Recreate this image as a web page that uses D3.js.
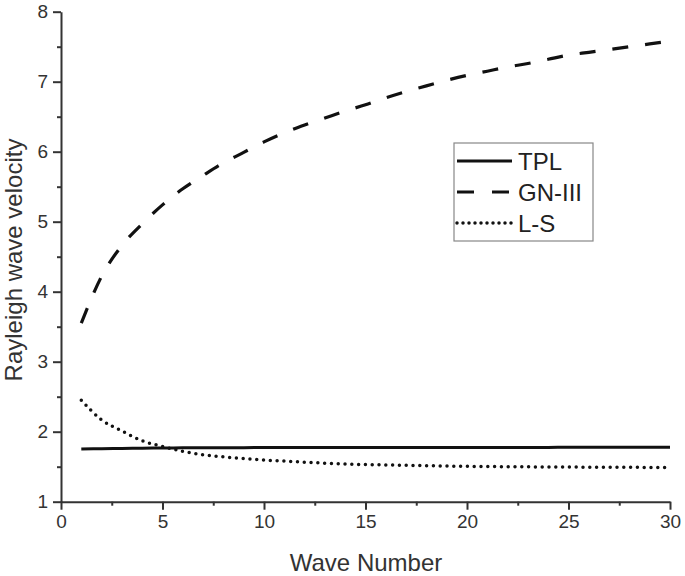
<!DOCTYPE html>
<html>
<head>
<meta charset="utf-8">
<script src="https://cdn.jsdelivr.net/npm/d3@7"></script>
<style>
  html, body { margin: 0; padding: 0; background: #fff; }
  svg { display: block; font-family: "Liberation Sans", Arial, sans-serif; }
</style>
</head>
<body>
<svg id="chart" width="685" height="576"></svg>
<script>
// ---- data ----
const waveNumbers = [1,2,3,4,5,6,7,8,9,10,11,12,13,14,15,16,17,18,19,20,21,22,23,24,25,26,27,28,29,30];
const tplValues   = [1.752,1.757,1.761,1.764,1.767,1.769,1.770,1.771,1.772,1.773,1.773,1.774,1.774,1.774,1.775,1.775,1.775,1.775,1.776,1.776,1.776,1.776,1.776,1.776,1.777,1.777,1.777,1.777,1.777,1.777];
const gnValues    = [3.55,4.22,4.66,4.97,5.24,5.47,5.66,5.84,5.99,6.14,6.27,6.38,6.48,6.58,6.67,6.77,6.86,6.94,7.02,7.09,7.15,7.21,7.26,7.32,7.38,7.42,7.46,7.50,7.54,7.58];
const lsValues    = [2.45,2.17,2.01,1.87,1.79,1.72,1.67,1.64,1.615,1.595,1.58,1.565,1.55,1.54,1.53,1.525,1.52,1.515,1.51,1.505,1.503,1.50,1.498,1.496,1.495,1.493,1.492,1.491,1.49,1.49];
const seriesNames = ["TPL","GN-III","L-S"];
const xTicks = [0,5,10,15,20,25,30];
const xMinorTicks = [2.5,7.5,12.5,17.5,22.5,27.5];
const yTicks = [1,2,3,4,5,6,7,8];
const yMinorTicks = [1.5,2.5,3.5,4.5,5.5,6.5,7.5];
const xTitle = "Wave Number";
const yTitle = "Rayleigh wave velocity";

// ---- layout ----
const svg = d3.select("#chart");
const x = d3.scaleLinear().domain([0,30]).range([61,670]);
const y = d3.scaleLinear().domain([1,8]).range([501.7,11.7]);
const axisColor = "#333";

const styles = {
  "TPL":    {dash: null,     cap: "butt",  width: 3},
  "GN-III": {dash: "16,17",  cap: "butt",  width: 3.2},
  "L-S":    {dash: "0,6.8",  cap: "round", width: 3.5}
};
const seriesData = {
  "TPL": tplValues, "GN-III": gnValues, "L-S": lsValues
};

// ---- axes ----
function styleAxis(g) {
  g.select(".domain").attr("stroke", axisColor).attr("stroke-width", 2);
  g.selectAll(".tick line").attr("stroke", axisColor).attr("stroke-width", 2);
  g.selectAll(".tick text").attr("fill", "#333").attr("font-size", 19)
    .attr("font-family", "'Liberation Sans', Arial, sans-serif");
}
const gx = svg.append("g").attr("transform", `translate(0,${y(1)})`)
  .call(d3.axisBottom(x).tickValues(xTicks).tickSize(8).tickSizeOuter(0).tickPadding(5).tickFormat(d3.format("d")));
styleAxis(gx);
const gxm = svg.append("g").attr("transform", `translate(0,${y(1)})`)
  .call(d3.axisBottom(x).tickValues(xMinorTicks).tickSize(4).tickFormat(""));
gxm.select(".domain").remove();
styleAxis(gxm);

const gy = svg.append("g").attr("transform", `translate(${x(0)},0)`)
  .call(d3.axisLeft(y).tickValues(yTicks).tickSize(8).tickSizeOuter(0).tickPadding(5).tickFormat(d3.format("d")));
styleAxis(gy);
const gym = svg.append("g").attr("transform", `translate(${x(0)},0)`)
  .call(d3.axisLeft(y).tickValues(yMinorTicks).tickSize(4).tickFormat(""));
gym.select(".domain").remove();
styleAxis(gym);

// ---- titles ----
svg.append("text").attr("x", 366).attr("y", 571).attr("text-anchor", "middle")
  .attr("font-size", 24).attr("fill", "#333").text(xTitle);
svg.append("text").attr("transform", `translate(22,260) rotate(-90)`).attr("text-anchor", "middle")
  .attr("font-size", 24).attr("fill", "#333").text(yTitle);

// ---- lines ----
const line = d3.line().x((d,i) => x(waveNumbers[i])).y(d => y(d)).curve(d3.curveMonotoneX);
seriesNames.forEach(name => {
  const s = styles[name];
  svg.append("path").datum(seriesData[name])
    .attr("d", line)
    .attr("fill", "none").attr("stroke", "#111")
    .attr("stroke-width", s.width)
    .attr("stroke-linecap", s.cap)
    .attr("stroke-dasharray", s.dash);
});

// ---- legend ----
const lg = svg.append("g");
lg.append("rect").attr("x", 454).attr("y", 143).attr("width", 139).attr("height", 98)
  .attr("fill", "#fff").attr("stroke", "#888").attr("stroke-width", 1.2);
const legendY = [161, 192, 223];
seriesNames.forEach((name, i) => {
  const s = styles[name];
  lg.append("line").attr("x1", 457).attr("x2", 512).attr("y1", legendY[i]).attr("y2", legendY[i])
    .attr("stroke", "#111").attr("stroke-width", s.width)
    .attr("stroke-linecap", s.cap)
    .attr("stroke-dasharray", name === "GN-III" ? "17,18" : (name === "L-S" ? "0,6" : null));
  lg.append("text").attr("x", 518).attr("y", legendY[i]).attr("dy", "0.36em")
    .attr("font-size", 24).attr("fill", "#222").text(name);
});
</script>
</body>
</html>
